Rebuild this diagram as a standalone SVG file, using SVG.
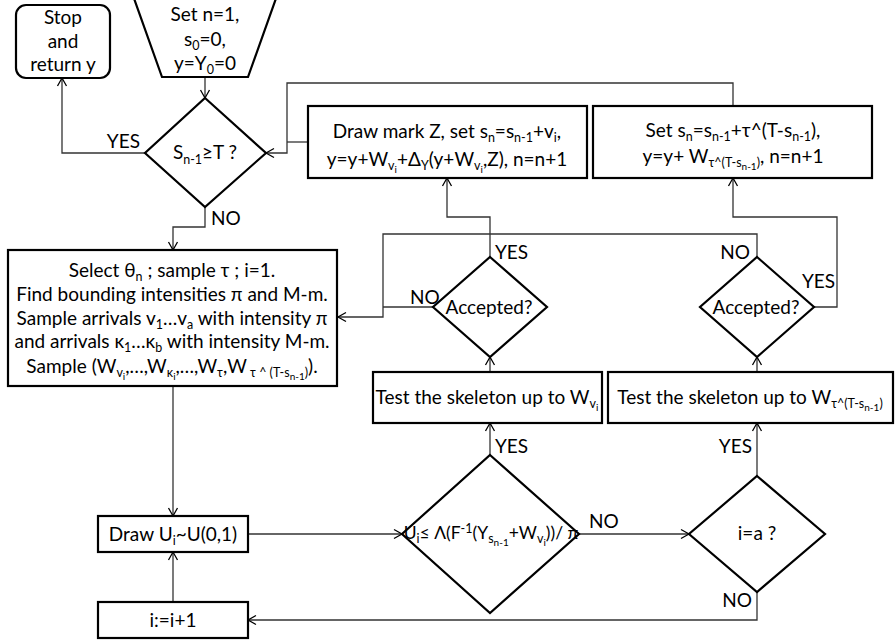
<svg xmlns="http://www.w3.org/2000/svg" width="896" height="644" viewBox="0 0 896 644">
<defs>
<marker id="ar" markerWidth="12" markerHeight="12" refX="10" refY="6" orient="auto" markerUnits="userSpaceOnUse">
<path d="M2,1.5 L10,6 L2,10.5" fill="none" stroke="#000" stroke-width="1.3"/>
</marker>
<style>
.b{fill:#fff;stroke:#000;stroke-width:2.2}
.c{fill:none;stroke:#333;stroke-width:1.3}
.ca{fill:none;stroke:#333;stroke-width:1.3;marker-end:url(#ar)}
text{font-family:Lato,"Liberation Sans",sans-serif;font-size:19px;fill:#000;text-anchor:middle}
.l{text-anchor:start}
.e{text-anchor:end}
.s{font-size:12.5px}
.ss{font-size:10px}
.sm{font-size:17.5px}
</style>
</defs>
<g id="connectors">
<path class="ca" d="M205,77 V98"/>
<path class="ca" d="M145,153 H62 V78"/>
<path class="ca" d="M205,207 V227 H173 V250"/>
<path class="ca" d="M173,386 V516"/>
<path class="ca" d="M173,602 V552"/>
<path class="ca" d="M248,534 H402"/>
<path class="ca" d="M579,534 H689"/>
<path class="ca" d="M757,592 V620 H248"/>
<path class="ca" d="M757,476 V423"/>
<path class="ca" d="M490,455 V423"/>
<path class="ca" d="M490,372 V357"/>
<path class="ca" d="M757,372 V357"/>
<path class="ca" d="M490,257 V217 H447 V178"/>
<path class="ca" d="M814,307 H837 V217 H733 V178"/>
<path class="c" d="M433,307 H383"/>
<path class="ca" d="M757,257 V234 H383 V317 H338"/>
<path class="ca" d="M733,106 V83 H287 V153 H266"/>
<path class="c" d="M308,142 H287"/>
<text class="e" x="140" y="148">YES</text>
<text class="l" x="211" y="225">NO</text>
<text class="l" x="495" y="259">YES</text>
<text class="l" x="410" y="304">NO</text>
<text class="e" x="750" y="259">NO</text>
<text class="l" x="802" y="288">YES</text>
<text class="l" x="495" y="453">YES</text>
<text class="l" x="589" y="528">NO</text>
<text class="e" x="752" y="453">YES</text>
<text class="e" x="752" y="607">NO</text>
</g>
<g id="stop">
<rect class="b" x="16" y="5" width="94" height="73" rx="10"/>
<text x="63" y="24">Stop</text>
<text x="63" y="48">and</text>
<text x="63" y="71">return y</text>
</g>
<g id="start">
<polygon class="b" points="131,-10 279,-10 248,77 162,77"/>
<text x="205" y="21">Set n=1,</text>
<text x="205" y="46">s<tspan class="s" dy="4">0</tspan><tspan dy="-4">=0,</tspan></text>
<text x="205" y="70">y=Y<tspan class="s" dy="4">0</tspan><tspan dy="-4">=0</tspan></text>
</g>
<g id="check-T">
<polygon class="b" points="205,98 266,153 205,207 145,153"/>
<text x="205" y="159">S<tspan class="s" dy="5">n-1</tspan><tspan dy="-5">≥T ?</tspan></text>
</g>
<g id="draw-mark">
<rect class="b" x="308" y="106" width="279" height="72"/>
<text x="447" y="138">Draw mark Z, set s<tspan class="s" dy="4">n</tspan><tspan dy="-4">=s</tspan><tspan class="s" dy="4">n-1</tspan><tspan dy="-4">+v</tspan><tspan class="s" dy="4">i</tspan><tspan dy="-4">,</tspan></text>
<text x="447" y="166">y=y+W<tspan class="s" dy="4">v</tspan><tspan class="ss" dy="3">i</tspan><tspan dy="-7">+Δ</tspan><tspan class="s" dy="4">Y</tspan><tspan dy="-4">(y+W</tspan><tspan class="s" dy="4">v</tspan><tspan class="ss" dy="3">i</tspan><tspan dy="-7">,Z), n=n+1</tspan></text>
</g>
<g id="set-tau">
<rect class="b" x="593" y="106" width="279" height="72"/>
<text x="733" y="137">Set s<tspan class="s" dy="4">n</tspan><tspan dy="-4">=s</tspan><tspan class="s" dy="4">n-1</tspan><tspan dy="-4">+τ^(T-s</tspan><tspan class="s" dy="4">n-1</tspan><tspan dy="-4">),</tspan></text>
<text x="733" y="163">y=y+ W<tspan class="s" dy="4">τ^(T-s</tspan><tspan class="ss" dy="3">n-1</tspan><tspan class="s" dy="-3">)</tspan><tspan dy="-4">, n=n+1</tspan></text>
</g>
<g id="sample">
<rect class="b" x="8" y="250" width="329" height="136"/>
<text x="172" y="277">Select θ<tspan class="s" dy="4">n</tspan><tspan dy="-4"> ; sample τ ; i=1.</tspan></text>
<text x="172" y="301">Find bounding intensities π and M-m.</text>
<text x="172" y="325">Sample arrivals v<tspan class="s" dy="4">1</tspan><tspan dy="-4">…v</tspan><tspan class="s" dy="4">a</tspan><tspan dy="-4"> with intensity π</tspan></text>
<text x="172" y="348">and arrivals κ<tspan class="s" dy="4">1</tspan><tspan dy="-4">…κ</tspan><tspan class="s" dy="4">b</tspan><tspan dy="-4"> with intensity M-m.</tspan></text>
<text x="172" y="373">Sample (W<tspan class="s" dy="4">v</tspan><tspan class="ss" dy="3">i</tspan><tspan dy="-7">,…,W</tspan><tspan class="s" dy="4">κ</tspan><tspan class="ss" dy="3">i</tspan><tspan dy="-7">,…,W</tspan><tspan class="s" dy="4">τ</tspan><tspan dy="-4">,W</tspan><tspan class="s" dy="4"> τ ^ (T-s</tspan><tspan class="ss" dy="3">n-1</tspan><tspan class="s" dy="-3">)</tspan><tspan dy="-4">).</tspan></text>
</g>
<g id="accept-left">
<polygon class="b" points="490,257 547,307 490,357 433,307"/>
<text x="489" y="314">Accepted?</text>
</g>
<g id="accept-right">
<polygon class="b" points="757,257 814,307 757,357 700,307"/>
<text x="756" y="314">Accepted?</text>
</g>
<g id="test-left">
<rect class="b" x="373" y="372" width="229" height="51"/>
<text x="487" y="404">Test the skeleton up to W<tspan class="s" dy="4">v</tspan><tspan class="ss" dy="3">i</tspan></text>
</g>
<g id="test-right">
<rect class="b" x="608" y="372" width="285" height="51"/>
<text x="750" y="404">Test the skeleton up to W<tspan class="s" dy="4">τ^(T-s</tspan><tspan class="ss" dy="3">n-1</tspan><tspan class="s" dy="-3">)</tspan></text>
</g>
<g id="draw-u">
<rect class="b" x="98" y="516" width="150" height="36"/>
<text x="173" y="541">Draw U<tspan class="s" dy="4">i</tspan><tspan dy="-4">~U(0,1)</tspan></text>
</g>
<g id="increment">
<rect class="b" x="98" y="602" width="150" height="36"/>
<text x="173" y="627">i:=i+1</text>
</g>
<g id="check-u">
<polygon class="b" points="490,455 579,534 490,613 402,534"/>
<text class="sm" x="491" y="539">U<tspan class="s" dy="4">i</tspan><tspan dy="-4">≤ Λ(F</tspan><tspan class="s" dy="-6">-1</tspan><tspan dy="6">(Y</tspan><tspan class="s" dy="4">s</tspan><tspan class="ss" dy="3">n-1</tspan><tspan dy="-7">+W</tspan><tspan class="s" dy="4">v</tspan><tspan class="ss" dy="3">i</tspan><tspan dy="-7">))/ π</tspan></text>
</g>
<g id="check-a">
<polygon class="b" points="757,476 825,534 757,592 689,534"/>
<text x="757" y="540">i=a ?</text>
</g>
</svg>
